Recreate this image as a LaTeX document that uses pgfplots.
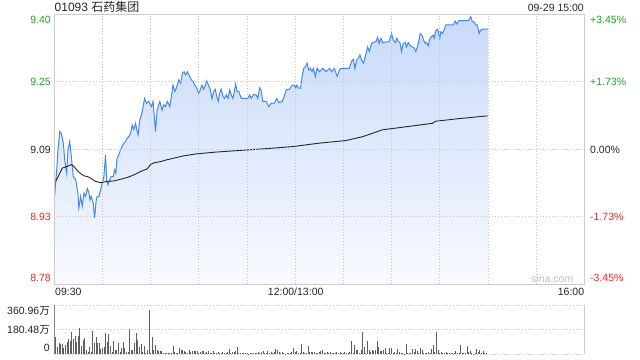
\documentclass[border=0pt]{standalone}
\usepackage{fontspec}
\setmainfont{Liberation Sans}
\newfontfamily\cjk{Noto Sans CJK SC}
\usepackage{pgfplots}
\pgfplotsset{compat=1.18}
\usepackage{pgfplotstable}
\definecolor{upg}{RGB}{30,165,30}
\definecolor{dnr}{RGB}{235,40,40}
\definecolor{pline}{RGB}{70,135,235}
\definecolor{bord}{RGB}{204,204,204}
\definecolor{gridc}{RGB}{196,196,196}
\definecolor{volg}{RGB}{95,95,95}
\definecolor{ftop}{RGB}{200,218,250}
\definecolor{fbot}{RGB}{248,250,255}

\pgfplotstableread{
t p
0.2 8.980
1.5 9.042
2.3 9.088
3.4 9.131
4.3 9.127
5.6 9.104
6.6 9.061
7.7 9.034
8.5 9.088
9.6 9.108
10.6 9.073
11.8 9.026
13.3 9.019
14.7 8.988
15.3 8.953
16.4 8.980
17.4 8.957
18.5 8.988
19.5 8.980
20.5 8.999
21.6 8.988
22.2 8.972
23.0 8.980
24.2 8.965
25.1 8.930
26.1 8.972
26.7 8.980
27.8 8.980
28.8 8.995
29.8 9.011
30.9 9.026
31.9 9.077
32.6 9.019
33.4 9.007
34.6 9.019
35.4 9.026
36.7 9.026
37.5 9.042
38.3 9.034
39.1 9.069
40.2 9.077
41.2 9.088
42.2 9.096
43.3 9.104
44.4 9.108
45.4 9.116
46.4 9.119
47.5 9.127
48.5 9.146
49.5 9.135
50.6 9.150
51.6 9.131
52.2 9.123
53.2 9.158
54.3 9.170
55.3 9.189
56.2 9.208
57.4 9.197
58.8 9.201
60.5 9.189
61.5 9.201
63.0 9.131
64.0 9.181
65.7 9.201
67.1 9.181
68.1 9.193
69.2 9.189
70.4 9.201
71.9 9.189
72.9 9.212
73.9 9.239
75.0 9.224
76.0 9.232
77.5 9.251
78.7 9.243
79.8 9.267
80.8 9.270
81.8 9.263
82.9 9.270
84.3 9.259
85.4 9.251
86.4 9.247
87.4 9.239
88.5 9.234
89.9 9.220
90.9 9.228
91.9 9.239
93.0 9.229
94.1 9.239
95.0 9.249
96.1 9.237
97.2 9.228
98.2 9.207
99.2 9.224
100.3 9.229
100.9 9.216
102.1 9.201
102.9 9.220
104.0 9.229
105.0 9.212
106.0 9.208
107.1 9.216
108.1 9.208
109.2 9.228
110.2 9.216
111.2 9.208
112.3 9.228
112.9 9.241
113.9 9.224
114.9 9.224
116.4 9.208
120.5 9.208
121.6 9.216
122.6 9.208
124.1 9.217
125.7 9.216
126.7 9.208
127.8 9.232
128.8 9.227
129.8 9.201
131.9 9.201
133.6 9.189
135.1 9.197
137.1 9.197
138.5 9.208
139.8 9.198
141.9 9.201
143.3 9.214
144.4 9.228
146.4 9.229
148.1 9.239
149.5 9.239
150.2 9.232
151.0 9.239
152.0 9.232
153.3 9.232
154.3 9.259
155.3 9.278
156.4 9.282
157.4 9.290
158.4 9.274
159.5 9.278
160.5 9.270
161.3 9.278
162.6 9.259
163.6 9.278
165.1 9.270
167.1 9.278
169.2 9.270
171.3 9.278
172.7 9.270
174.4 9.278
176.1 9.259
177.5 9.274
178.5 9.278
183.7 9.278
185.1 9.294
186.2 9.299
187.2 9.278
188.2 9.297
189.3 9.301
190.3 9.309
191.3 9.297
192.6 9.290
194.1 9.313
195.1 9.328
196.1 9.317
197.6 9.336
198.6 9.338
200.3 9.340
201.3 9.350
202.3 9.336
203.4 9.348
204.4 9.338
208.5 9.340
210.0 9.359
211.0 9.344
212.3 9.338
213.3 9.348
214.1 9.340
215.2 9.338
216.2 9.317
217.2 9.336
218.5 9.338
219.3 9.328
220.4 9.338
221.6 9.330
223.0 9.328
224.1 9.325
225.1 9.317
226.1 9.328
227.2 9.346
227.8 9.359
228.9 9.355
229.9 9.344
230.9 9.336
231.7 9.338
232.8 9.330
233.8 9.346
234.8 9.352
235.9 9.355
236.5 9.348
237.6 9.366
238.6 9.369
239.2 9.362
240.0 9.348
240.7 9.363
241.7 9.359
242.7 9.367
243.8 9.379
248.5 9.379
249.6 9.388
250.6 9.381
252.0 9.389
257.8 9.389
259.3 9.398
260.3 9.386
261.4 9.386
262.4 9.379
263.4 9.379
264.5 9.359
265.5 9.367
266.5 9.369
270.0 9.369
}\price

\pgfplotstableread{
t a
0.9 9.015
2.9 9.030
5.0 9.046
8.1 9.050
10.6 9.054
12.2 9.050
14.3 9.040
16.4 9.033
18.5 9.028
21.6 9.025
23.6 9.020
25.7 9.015
28.8 9.012
32.9 9.015
37.1 9.016
41.2 9.020
45.4 9.024
49.5 9.030
53.7 9.038
57.8 9.044
59.9 9.054
61.9 9.058
66.1 9.061
69.8 9.065
80.0 9.074
88.5 9.079
100.0 9.083
119.5 9.088
135.0 9.092
148.5 9.096
165.1 9.104
181.6 9.110
192.0 9.119
204.4 9.135
218.9 9.142
235.4 9.150
237.6 9.155
252.0 9.161
268.6 9.167
270.0 9.167
}\avg

\begin{document}
\begin{tikzpicture}[font=\fontsize{10.5bp}{12bp}\selectfont]
\path[use as bounding box] (0bp,0bp) rectangle (640bp,360bp);
\begin{axis}[at={(54.3bp,76bp)}, anchor=south west, scale only axis,
  width=530bp, height=269.7bp,
  xmin=0, xmax=330, ymin=8.7764, ymax=9.4036,
  xtick={0,30,...,330}, ytick={8.7764,8.9332,9.2468,9.4036},
  extra y ticks={9.09}, extra y tick labels={},
  extra y tick style={grid style={gray!70, dash pattern=on 3bp off 2bp, line width=0.8bp}},
  xticklabels={}, yticklabels={}, major tick length=0,
  axis on top,
  grid=major, major grid style={gridc, dash pattern=on 1.1bp off 1.9bp, line width=0.8bp},
  axis line style={bord, line width=0.9bp}]
\addplot[draw=none, top color=ftop, bottom color=fbot, forget plot] table[x=t,y=p]{\price}
  -- (axis cs:270,8.7764) -- (axis cs:0.2,8.7764) -- cycle;
\addplot[pline, line width=1bp] table[x=t,y=p]{\price};
\addplot[black!85, line width=0.9bp] table[x=t,y=a]{\avg};
\end{axis}

\begin{axis}[at={(54.3bp,5.7bp)}, anchor=south west, scale only axis,
  width=530bp, height=49.3bp,
  xmin=0, xmax=330, ymin=0, ymax=360.96,
  xtick=\empty, ytick={180.48}, yticklabels={}, major tick length=0,
  ymajorgrids, major grid style={gridc, dash pattern=on 1.1bp off 1.9bp, line width=0.8bp},
  separate axis lines,
  x axis line style={gridc, dash pattern=on 1.1bp off 1.9bp, line width=0.8bp},
  y axis line style={bord, line width=0.9bp}]
\addplot[ycomb, volg, line width=1bp] coordinates {
(0,361) (1,129) (2,56) (3,85) (4,73) (5,73) (6,44) (7,68) (8,93) (9,110)
(10,100) (11,166) (12,110) (13,137) (14,93) (15,137) (16,190) (17,63) (18,105) (19,117)
(20,32) (21,20) (22,56) (23,20) (24,173) (25,80) (26,129) (27,85) (28,85) (29,37)
(30,44) (31,56) (32,159) (33,93) (34,146) (35,63) (36,20) (37,100) (38,32) (39,32)
(40,80) (41,20) (42,44) (43,93) (44,49) (45,20) (46,20) (47,185) (48,32) (49,32)
(50,85) (51,154) (52,105) (53,56) (54,73) (55,20) (56,61) (57,12) (58,32) (59,324)
(60,12) (61,129) (62,32) (63,68) (64,32) (65,24) (66,24) (67,24) (68,12) (69,12)
(70,12) (71,12) (72,7) (73,12) (74,61) (75,20) (76,12) (77,12) (78,49) (79,32)
(80,32) (81,24) (82,20) (83,12) (84,32) (85,20) (86,24) (87,24) (88,24) (89,24)
(90,12) (91,20) (92,24) (93,24) (94,7) (95,20) (96,24) (97,12) (98,12) (99,24)
(100,12) (101,7) (102,20) (103,12) (104,7) (105,20) (106,12) (107,12) (108,20) (109,39)
(110,12) (111,20) (112,20) (113,24) (114,56) (115,7) (116,7) (117,12) (118,12) (119,7)
(120,7) (121,3) (122,7) (123,7) (124,7) (125,7) (126,12) (127,20) (128,12) (129,20)
(130,27) (131,12) (132,12) (133,24) (134,7) (135,20) (136,7) (137,20) (138,39) (139,32)
(140,20) (141,12) (142,20) (143,12) (144,3) (145,7) (146,7) (147,12) (148,20) (149,44)
(150,20) (151,27) (152,12) (153,12) (154,76) (155,20) (156,12) (157,12) (158,61) (159,20)
(160,20) (161,20) (162,20) (163,12) (164,12) (165,20) (166,24) (167,32) (168,12) (169,12)
(170,20) (171,12) (172,20) (173,12) (174,7) (175,12) (176,20) (177,12) (178,20) (179,7)
(180,12) (181,20) (182,12) (183,7) (184,20) (185,98) (186,12) (187,68) (188,32) (189,32)
(190,12) (191,32) (192,163) (193,56) (194,12) (195,98) (196,32) (197,20) (198,32) (199,24)
(200,32) (201,98) (202,56) (203,24) (204,24) (205,32) (206,44) (207,12) (208,12) (209,44)
(210,44) (211,12) (212,20) (213,12) (214,37) (215,20) (216,12) (217,12) (218,3) (219,76)
(220,7) (221,7) (222,12) (223,37) (224,20) (225,37) (226,24) (227,7) (228,49) (229,32)
(230,12) (231,12) (232,12) (233,20) (234,12) (235,37) (236,68) (237,20) (238,163) (239,32)
(240,12) (241,20) (242,12) (243,12) (244,20) (245,12) (246,7) (247,12) (248,7) (249,12)
(250,24) (251,7) (252,12) (253,68) (254,12) (255,7) (256,7) (257,61) (258,20) (259,24)
(260,7) (261,3) (262,7) (263,37) (264,20) (265,32) (266,7) (267,24) (268,7) (269,7)
};
\end{axis}

% titles
\node[anchor=base west, inner sep=0, text=black!85] at (54.5bp,348.3bp) {\fontsize{12bp}{14bp}\selectfont 01093 {\cjk 石药集团}};
\node[anchor=base east, inner sep=0, text=black!85] at (584bp,348.3bp) {09-29 15:00};
% left price labels
\node[anchor=base east, inner sep=0, text=upg] at (51bp,336bp) {9.40};
\node[anchor=base east, inner sep=0, text=upg] at (51bp,274bp) {9.25};
\node[anchor=base east, inner sep=0, text=black!85] at (51bp,206.8bp) {9.09};
\node[anchor=base east, inner sep=0, text=dnr] at (51bp,139.3bp) {8.93};
\node[anchor=base east, inner sep=0, text=dnr] at (51bp,78.3bp) {8.78};
% right percent labels
\node[anchor=base west, inner sep=0, text=upg] at (590bp,336bp) {+3.45\%};
\node[anchor=base west, inner sep=0, text=upg] at (590bp,274bp) {+1.73\%};
\node[anchor=base west, inner sep=0, text=black!85] at (590bp,206.8bp) {0.00\%};
\node[anchor=base west, inner sep=0, text=dnr] at (590bp,139.3bp) {-1.73\%};
\node[anchor=base west, inner sep=0, text=dnr] at (590bp,78.3bp) {-3.45\%};
% x labels
\node[anchor=base west, inner sep=0, text=black!85] at (55bp,64.7bp) {09:30};
\node[anchor=base, inner sep=0, text=black!85] at (295.7bp,64.7bp) {12:00/13:00};
\node[anchor=base east, inner sep=0, text=black!85] at (584.3bp,64.7bp) {16:00};
% volume labels
\node[anchor=base east, inner sep=0, text=black!85] at (50bp,45.7bp) {360.96{\cjk 万}};
\node[anchor=base east, inner sep=0, text=black!85] at (50bp,26.7bp) {180.48{\cjk 万}};
\node[anchor=base east, inner sep=0, text=black!85] at (50bp,8.3bp) {0};
% watermark
\node[anchor=base east, inner sep=0, text=black!25] at (573.5bp,77.5bp) {sina.com};
\end{tikzpicture}
\end{document}
